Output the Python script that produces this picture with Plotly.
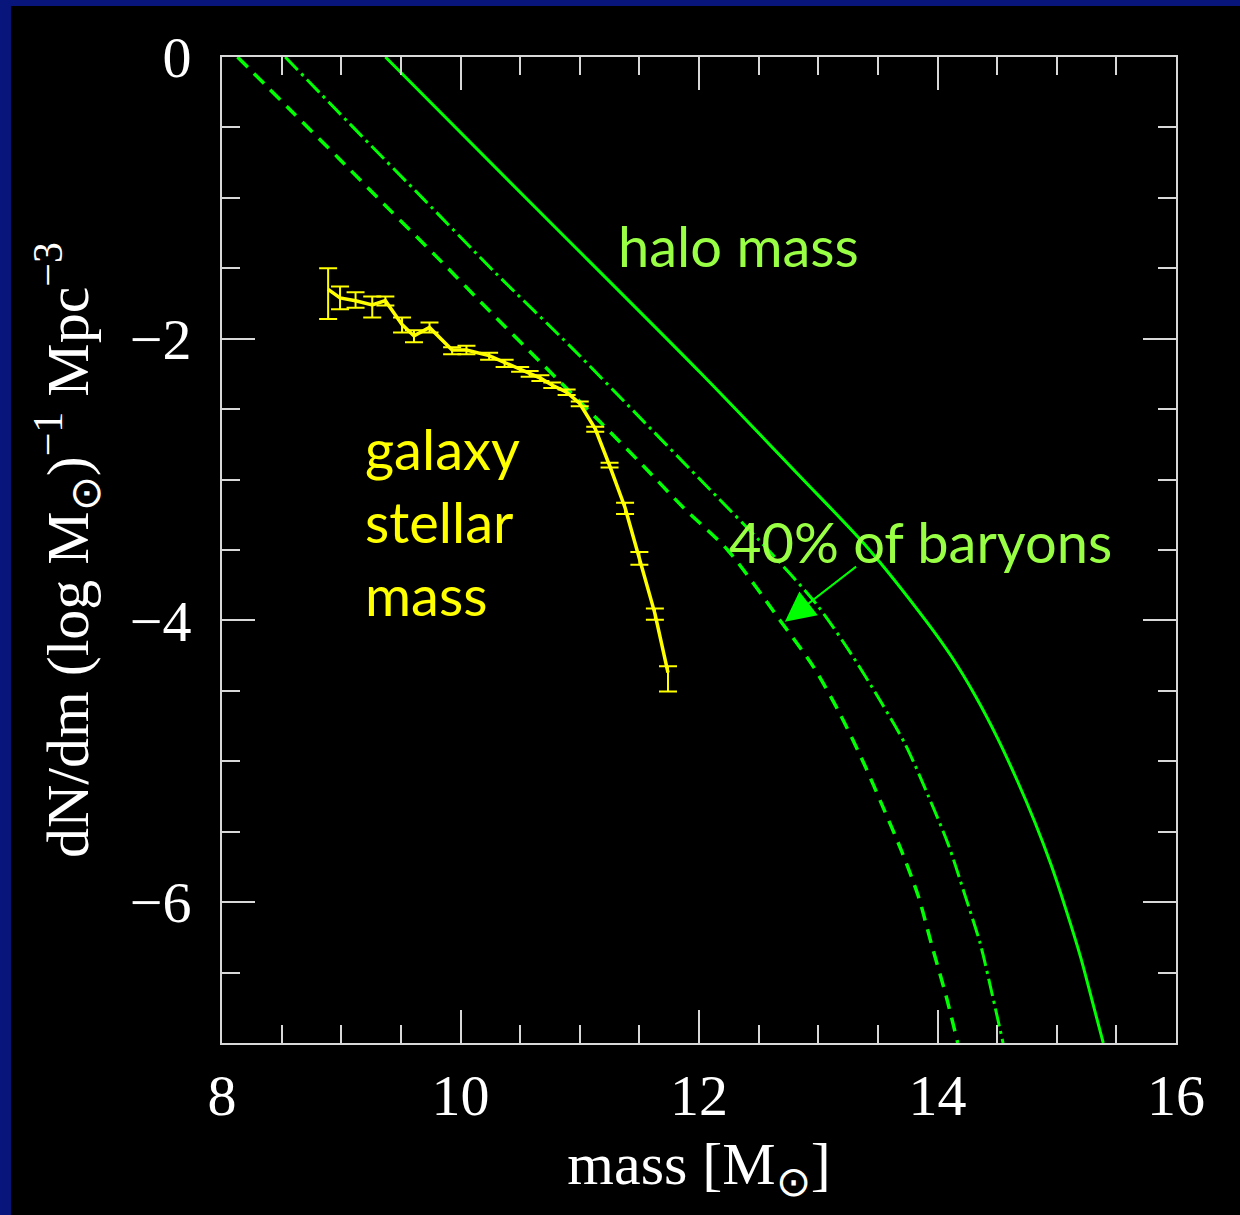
import plotly.graph_objects as go

# --- halo mass function (solid) ---
halo_x = [9.37, 10.63, 12.01, 12.85, 13.41, 13.91, 14.12, 14.32, 14.50, 14.67, 14.82, 14.95,
          15.08, 15.20, 15.30, 15.39]
halo_y = [0.0, -1.07, -2.24, -2.98, -3.48, -4.01, -4.26, -4.54, -4.83, -5.14, -5.44, -5.73,
          -6.06, -6.39, -6.71, -7.0]

# --- all baryons (dash-dot) ---
bary_x = [8.53, 9.17, 9.68, 10.29, 10.94, 11.47, 12.01, 12.57, 12.99, 13.27, 13.52, 13.73,
          13.92, 14.09, 14.23, 14.36, 14.46, 14.55]
bary_y = [0.0, -0.56, -1.00, -1.53, -2.07, -2.53, -3.00, -3.49, -3.89, -4.23, -4.57, -4.88,
          -5.24, -5.59, -5.95, -6.30, -6.66, -7.0]

# --- 40% of baryons (dashed) ---
b40_x = [8.13, 8.59, 8.98, 9.40, 9.79, 10.24, 10.71, 11.17, 11.53, 11.87, 12.24, 12.68,
         12.96, 13.18, 13.38, 13.54, 13.70, 13.84, 13.95, 14.07, 14.17]
b40_y = [0.0, -0.39, -0.72, -1.08, -1.41, -1.80, -2.20, -2.59, -2.90, -3.20, -3.50, -4.00,
         -4.33, -4.66, -5.01, -5.32, -5.64, -5.96, -6.30, -6.66, -7.0]

# --- galaxy stellar mass function (points with errors) ---
gal_x = [8.89, 8.99, 9.12, 9.26, 9.37, 9.51, 9.61, 9.74, 9.93, 10.05, 10.24, 10.37,
         10.50, 10.58, 10.67, 10.77, 10.89, 11.00, 11.13, 11.25, 11.38, 11.50, 11.63, 11.74]
gal_y = [-1.65, -1.71, -1.73, -1.76, -1.73, -1.90, -1.98, -1.92, -2.08, -2.08, -2.12, -2.17,
         -2.22, -2.25, -2.28, -2.33, -2.38, -2.46, -2.64, -2.90, -3.20, -3.56, -3.95, -4.37]
gal_err_up = [0.15, 0.08, 0.06, 0.06, 0.03, 0.05, 0.04, 0.035, 0.02, 0.03, 0.02, 0.02,
              0.02, 0.02, 0.02, 0.02, 0.02, 0.015, 0.015, 0.02, 0.035, 0.045, 0.035, 0.045]
gal_err_dn = [0.21, 0.08, 0.05, 0.09, 0.035, 0.055, 0.045, 0.035, 0.03, 0.03, 0.03, 0.03,
              0.015, 0.02, 0.02, 0.02, 0.02, 0.02, 0.02, 0.015, 0.045, 0.045, 0.045, 0.135]

GREEN = "#00ff00"
LABEL_GREEN = "#99ff44"
YELLOW = "#ffff00"
FRAME = "#d8d8d8"
BLUE = "#08157a"

fig = go.Figure()

fig.add_trace(go.Scatter(x=halo_x, y=halo_y, mode="lines",
                         line=dict(color=GREEN, width=3, shape="spline", smoothing=0.8),
                         showlegend=False))
fig.add_trace(go.Scatter(x=bary_x, y=bary_y, mode="lines",
                         line=dict(color=GREEN, width=3, dash="18px,5px,3px,5px",
                                   shape="spline", smoothing=0.8),
                         showlegend=False))
fig.add_trace(go.Scatter(x=b40_x, y=b40_y, mode="lines",
                         line=dict(color=GREEN, width=3.5, dash="14px,9px",
                                   shape="spline", smoothing=0.8),
                         showlegend=False))
fig.add_trace(go.Scatter(
    x=gal_x, y=gal_y, mode="lines",
    line=dict(color=YELLOW, width=3.5),
    error_y=dict(type="data", symmetric=False, array=gal_err_up, arrayminus=gal_err_dn,
                 color=YELLOW, thickness=2, width=9),
    showlegend=False))

axis_common = dict(
    showline=True, linecolor=FRAME, linewidth=2, mirror="ticks",
    ticks="inside", ticklen=33, tickwidth=2, tickcolor=FRAME,
    showgrid=False, zeroline=False,
    tickfont=dict(family="Liberation Serif", size=58, color="white"),
    minor=dict(ticks="inside", ticklen=18, tickwidth=2, tickcolor=FRAME, dtick=0.5,
               showgrid=False),
)

fig.update_xaxes(range=[8, 16], tick0=8, dtick=2, ticklabelstandoff=0,
                 title=dict(text="mass [M<sub>⊙</sub>]",
                            font=dict(family="Liberation Serif", size=60, color="white"),
                            standoff=15),
                 **axis_common)
fig.update_yaxes(range=[-7, 0], tick0=0, dtick=2, ticklabelstandoff=17,
                 title=dict(text="dN/dm (log M<sub>⊙</sub>)<sup>−1</sup> Mpc<sup>−3</sup>",
                            font=dict(family="Liberation Serif", size=60, color="white"),
                            standoff=22),
                 **axis_common)

# black panel over blue slide background
fig.add_shape(type="rect", xref="paper", yref="paper",
              x0=-0.2212, x1=1.08, y0=-0.2, y1=1.0517,
              fillcolor="black", line=dict(width=0), layer="below")

txt_font = dict(family="Lato", size=56)
fig.add_annotation(x=11.30, y=-1.335, text="halo mass", showarrow=False,
                   xanchor="left", yanchor="middle", font=dict(color=LABEL_GREEN, **txt_font))
fig.add_annotation(x=12.235, y=-3.44, text="40% of baryons", showarrow=False,
                   xanchor="left", yanchor="middle", font=dict(color=LABEL_GREEN, **txt_font))
fig.add_annotation(x=9.18, y=-3.30, text="galaxy<br>stellar<br>mass", showarrow=False,
                   xanchor="left", yanchor="middle", align="left",
                   font=dict(color=YELLOW, **txt_font))
fig.add_annotation(x=12.72, y=-4.01, ax=13.33, ay=-3.61, axref="x", ayref="y",
                   text="", showarrow=True, arrowhead=2, arrowsize=3, arrowwidth=2,
                   arrowcolor=GREEN)

fig.update_layout(
    width=1240, height=1215,
    margin=dict(l=222, r=64, t=57, b=172),
    paper_bgcolor=BLUE, plot_bgcolor="black",
)

fig.write_html("out.html", config={"displayModeBar": False},
               post_script="document.body.style.margin='0';")
